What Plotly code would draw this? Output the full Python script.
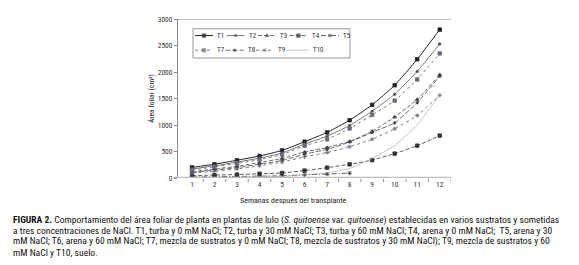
import plotly.graph_objects as go

weeks = [1, 2, 3, 4, 5, 6, 7, 8, 9, 10, 11, 12]
T1 = [200, 260, 335, 415, 520, 685, 860, 1090, 1380, 1750, 2240, 2800]
T2 = [170, 230, 300, 375, 470, 640, 790, 990, 1260, 1580, 2010, 2530]
T3 = [120, 170, 220, 290, 370, 490, 575, 690, 880, 1150, 1480, 1950]
T4 = [45, 55, 65, 80, 95, 140, 195, 258, 337, 460, 610, 800]
T5 = [20, 25, 30, 35, 40, 60, 74, 92, None, None, None, None]
T7 = [150, 210, 275, 350, 440, 610, 730, 935, 1190, 1460, 1860, 2350]
T8 = [100, 150, 195, 260, 330, 450, 540, 680, 860, 1040, 1420, 1920]
T9 = [90, 130, 170, 230, 300, 400, 480, 590, 730, 930, 1180, 1560]
T10 = [10, 12, 15, 20, 30, 60, 100, 180, 368, 613, 1000, 1570]
y_ticks = [0, 500, 1000, 1500, 2000, 2500, 3000]

FONT = "Liberation Sans Narrow, Arial Narrow, Roboto Condensed, Liberation Sans, sans-serif"
W, H = 579, 265
L, R, T, B = 170, 443, 7, 170

# series styles: name, data, dash, symbol, color, width, size
series = [
    ("T1", T1, "solid", "square", "#222222", 1.0, 3.5),
    ("T2", T2, "solid", "circle", "#555555", 0.8, 2.5),
    ("T3", T3, "4px,2px", "triangle-up", "#444444", 0.8, 3.5),
    ("T4", T4, "4px,2px", "square", "#333333", 0.8, 3.5),
    ("T5", T5, "5px,2px,1px,2px", "asterisk", "#333333", 0.8, 3.5),
    ("T7", T7, "dot", "square", "#6a6a78", 0.9, 3.5),
    ("T8", T8, "5px,2px", "circle", "#444444", 0.8, 2.5),
    ("T9", T9, "dot", "asterisk", "#6a6a78", 0.9, 3.5),
    ("T10", T10, "solid", None, "#aaaaaa", 0.7, 0),
]

fig = go.Figure()
for name, data, dash, sym, col, wd, sz in series:
    fig.add_trace(go.Scatter(
        x=weeks, y=data, name=name, mode="lines+markers" if sym else "lines",
        line=dict(color=col, width=wd, dash=dash, shape="spline", smoothing=0.4),
        marker=dict(symbol=sym or "circle", size=sz, color=col,
                    line=dict(color=col, width=0.8)),
        showlegend=False, connectgaps=False))

# custom legend drawn on an overlay axis in pixel units
leg_rows = [["T1", "T2", "T3", "T4", "T5"], ["T7", "T8", "T9", "T10"]]
row_y = [24, 39]
style = {s[0]: s for s in series}
for r, row in enumerate(leg_rows):
    for i, nm in enumerate(row):
        _, _, dash, sym, col, wd, sz = style[nm]
        x0 = 187 + i * 31.5 if r == 0 else 187 + i * 30.5
        ln = 18 if nm != "T10" else 22
        fig.add_trace(go.Scatter(
            x=[x0, x0 + ln / 2, x0 + ln], y=[row_y[r]] * 3, xaxis="x2", yaxis="y2",
            mode="lines+markers" if sym else "lines",
            line=dict(color=col, width=wd, dash=dash),
            marker=dict(symbol=sym or "circle", size=[0, sz, 0], color=col,
                        line=dict(color=col, width=0.8)),
            showlegend=False, hoverinfo="skip"))
        fig.add_annotation(x=x0 + ln + 2, y=row_y[r], xref="x2", yref="y2",
                           text=nm, showarrow=False, xanchor="left", yanchor="middle",
                           font=dict(family=FONT, size=7, color="#333"))

fig.add_shape(type="rect", xref="x2", yref="y2", x0=185, x1=342, y0=17, y1=47,
              line=dict(color="#999999", width=1), layer="below")
# top border of plot area
fig.add_shape(type="line", xref="paper", yref="y", x0=0, x1=1, y0=3000, y1=3000,
              line=dict(color="#888888", width=1))


def px(xp):
    return (xp - L) / (R - L)


def py(yp):
    return (B - yp) / (B - T)


caption = [
    "<b>FIGURA 2.</b> Comportamiento del área foliar de planta en plantas de lulo (<i>S. quitoense</i> var. <i>quitoense</i>) establecidas en varios sustratos y sometidas",
    "a tres concentraciones de NaCl. T1, turba y 0 mM NaCl; T2, turba y 30 mM NaCl; T3, turba y 60 mM NaCl; T4, arena y 0 mM NaCl;  T5, arena y 30",
    "mM NaCl; T6, arena y 60 mM NaCl; T7, mezcla de sustratos y 0 mM NaCl; T8, mezcla de sustratos y 30 mM NaCl); T9, mezcla de sustratos y 60",
    "mM NaCl y T10, suelo.",
]
for k, line in enumerate(caption):
    fig.add_annotation(x=px(3), y=py(213 + 11 * k), xref="paper", yref="paper",
                       text=line, showarrow=False, xanchor="left", yanchor="middle",
                       font=dict(family=FONT, size=9.6, color="#111"))

fig.add_annotation(x=px(285), y=py(193), xref="paper", yref="paper",
                   text="Semanas después del transplante", showarrow=False,
                   xanchor="center", yanchor="middle",
                   font=dict(family=FONT, size=8, color="#222"))

fig.update_layout(
    width=W, height=H, margin=dict(l=L, r=W - R, t=T, b=H - B),
    paper_bgcolor="white", plot_bgcolor="white",
    xaxis=dict(range=[0.38, 12.5], tickvals=weeks, ticktext=[str(w) for w in weeks],
               showgrid=False, zeroline=False, showline=False,
               ticks="", tickfont=dict(family=FONT, size=7.5, color="#333")),
    yaxis=dict(range=[0, 3000], tickvals=y_ticks, showgrid=False, zeroline=False,
               showline=True, linecolor="#888888", linewidth=1, ticks="outside",
               ticklen=3, tickcolor="#888888",
               title=dict(text="Área foliar (cm²)", standoff=2,
                          font=dict(family=FONT, size=7.5, color="#222")),
               tickfont=dict(family=FONT, size=7.5, color="#333")),
    xaxis2=dict(range=[L, R], overlaying="x", visible=False, domain=[0, 1]),
    yaxis2=dict(range=[B, T], overlaying="y", visible=False, domain=[0, 1]),
)
# grey x axis baseline with tick marks between categories
fig.add_shape(type="line", xref="paper", yref="y", x0=px(165), x1=1, y0=0, y1=0,
              line=dict(color="#bbbbbb", width=2.5))
for w in weeks:
    fig.add_shape(type="line", xref="x", yref="paper", x0=w + 0.5, x1=w + 0.5,
                  y0=py(171), y1=py(174), line=dict(color="#888888", width=1))

fig.write_html("out.html")
